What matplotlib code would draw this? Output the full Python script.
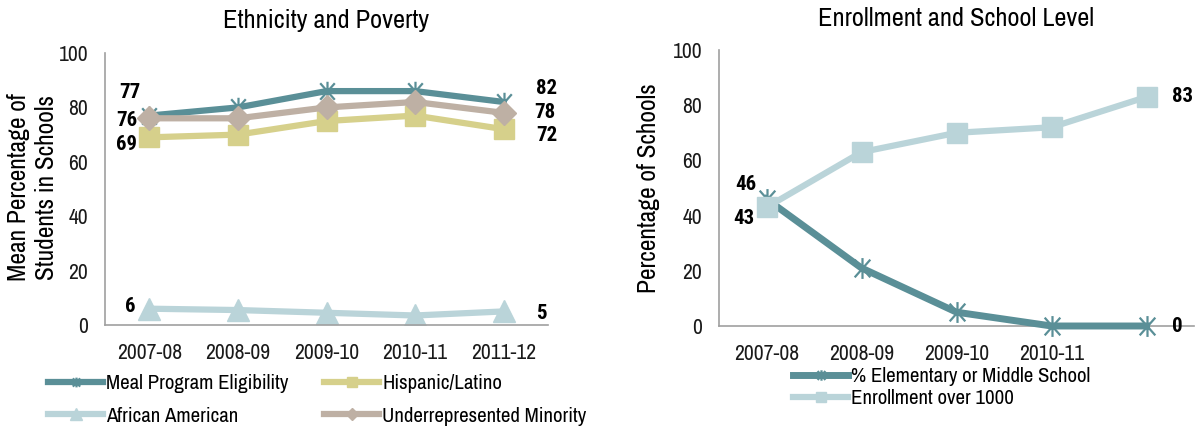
import matplotlib
matplotlib.use("Agg")
import matplotlib.pyplot as plt
from matplotlib.path import Path

# Data
years = ["2007-08", "2008-09", "2009-10", "2010-11", "2011-12"]
meal = [77, 80, 86, 86, 82]
hispanic = [69, 70, 75, 77, 72]
african_american = [6, 5.5, 4.5, 3.5, 5]
urm = [76, 76, 80, 82, 78]

level_ticks = ["2007-08", "2008-09", "2009-10", "2010-11", ""]
elem_middle = [46, 21, 5, 0, 0]
enroll_1000 = [43, 63, 70, 72, 83]

TEAL = "#5A8F97"
KHAKI = "#D6D08B"
LIGHTBLUE = "#BAD4D9"
TAUPE = "#BEB0A4"
GRAY = "#A0A0A0"

plt.rcParams["font.family"] = ["Archivo Narrow", "DejaVu Sans"]
BOLD_FAMILY = ["Roboto Condensed", "DejaVu Sans"]

fig = plt.figure(figsize=(11.99, 4.29), dpi=100)
ax1 = fig.add_axes([0.0876, 0.2424, 0.3695, 0.6340])
ax2 = fig.add_axes([0.5997, 0.2401, 0.3962, 0.6434])

# asterisk: vertical stroke plus a steep X
STAR = Path([(0, -1), (0, 1), (-0.75, -0.85), (0.75, 0.85), (-0.75, 0.85), (0.75, -0.85)],
            [Path.MOVETO, Path.LINETO, Path.MOVETO, Path.LINETO, Path.MOVETO, Path.LINETO])
LW = 4.5
FS = 15


def style(ax, ticklabels, ylabel, ylab_xy):
    ax.set_xlim(-0.5, 4.5)
    ax.set_ylim(0, 100)
    ax.set_yticks(range(0, 101, 20))
    ax.set_xticks(range(5))
    ax.set_xticklabels(ticklabels)
    for s in ("top", "right"):
        ax.spines[s].set_visible(False)
    for s in ("left", "bottom"):
        ax.spines[s].set_color(GRAY)
        ax.spines[s].set_linewidth(1.2)
    ax.tick_params(length=0, labelsize=15.5, colors="#1a1a1a")
    ax.tick_params(axis="x", pad=13)
    ax.tick_params(axis="y", pad=12)
    ax.set_ylabel(ylabel, fontsize=18.3, color="black", linespacing=1.25)
    ax.yaxis.set_label_coords(*ylab_xy)
    ax.patch.set_alpha(0)


def label(ax, x, y, text, dx, dy, ha):
    ax.annotate(text, (x, y), xytext=(dx, -dy), textcoords="offset pixels",
                ha=ha, va="center", fontsize=FS, fontweight="bold",
                family=BOLD_FAMILY, color="black", annotation_clip=False)


x = list(range(5))

# Left panel: ethnicity and poverty
l_meal, = ax1.plot(x, meal, color=TEAL, lw=LW, marker=STAR, ms=14, mew=1.6,
                   mfc="none", label="Meal Program Eligibility", zorder=3)
l_hisp, = ax1.plot(x, hispanic, color=KHAKI, lw=LW, marker="s", ms=14,
                   label="Hispanic/Latino", zorder=2)
l_aa, = ax1.plot(x, african_american, color=LIGHTBLUE, lw=LW, marker="^", ms=16,
                 label="African American", zorder=2)
l_urm, = ax1.plot(x, urm, color=TAUPE, lw=LW, marker="D", ms=12.5,
                  label="Underrepresented Minority", zorder=4)
style(ax1, years, "Mean Percentage of\nStudents in Schools", (-0.106, 0.507))
ax1.set_title("Ethnicity and Poverty", fontsize=19, pad=18)

label(ax1, 0, meal[0], f"{meal[0]}", -9, -23, "right")
label(ax1, 0, urm[0], f"{urm[0]}", -12, 2, "right")
label(ax1, 0, hispanic[0], f"{hispanic[0]}", -12, 7, "right")
label(ax1, 0, african_american[0], f"{african_american[0]:.0f}", -14, -2, "right")
label(ax1, 4, meal[-1], f"{meal[-1]}", 32, -13, "left")
label(ax1, 4, urm[-1], f"{urm[-1]}", 30, 0, "left")
label(ax1, 4, hispanic[-1], f"{hispanic[-1]}", 32, 6, "left")
label(ax1, 4, african_american[-1], f"{african_american[-1]:.0f}", 32, 2, "left")

# Two-column legend, filled column by column
fig.legend(handles=[l_meal, l_aa, l_hisp, l_urm], ncol=2,
           loc="upper left", bbox_to_anchor=(0.040, 0.128),
           frameon=False, fontsize=FS, handlelength=2.65,
           handletextpad=0.15, columnspacing=1.7, labelspacing=0.65,
           markerscale=0.5, borderpad=0, borderaxespad=0)

# Right panel: enrollment and school level
r_elem, = ax2.plot(x, elem_middle, color=TEAL, lw=5, marker=STAR, ms=15, mew=1.6,
                   mfc="none", label="% Elementary or Middle School", zorder=3,
                   clip_on=False)
r_enr, = ax2.plot(x, enroll_1000, color=LIGHTBLUE, lw=LW, marker="s", ms=14.5,
                  label="Enrollment over 1000", zorder=4, clip_on=False)
style(ax2, level_ticks, "Percentage of Schools", (-0.124, 0.50))
ax2.set_title("Enrollment and School Level", fontsize=19, pad=17)

label(ax2, 0, elem_middle[0], f"{elem_middle[0]}", -10, -15, "right")
label(ax2, 0, enroll_1000[0], f"{enroll_1000[0]}", -12, 11, "right")
label(ax2, 4, enroll_1000[-1], f"{enroll_1000[-1]}", 25, 0, "left")
label(ax2, 4, elem_middle[-1], f"{elem_middle[-1]}", 25, 1, "left")

fig.legend(handles=[r_elem, r_enr], loc="upper left",
           bbox_to_anchor=(0.6614, 0.145), frameon=False, fontsize=FS,
           handlelength=2.65, handletextpad=0.15, labelspacing=0.15,
           markerscale=0.5, borderpad=0, borderaxespad=0)

fig.savefig("out.png", dpi=100)
